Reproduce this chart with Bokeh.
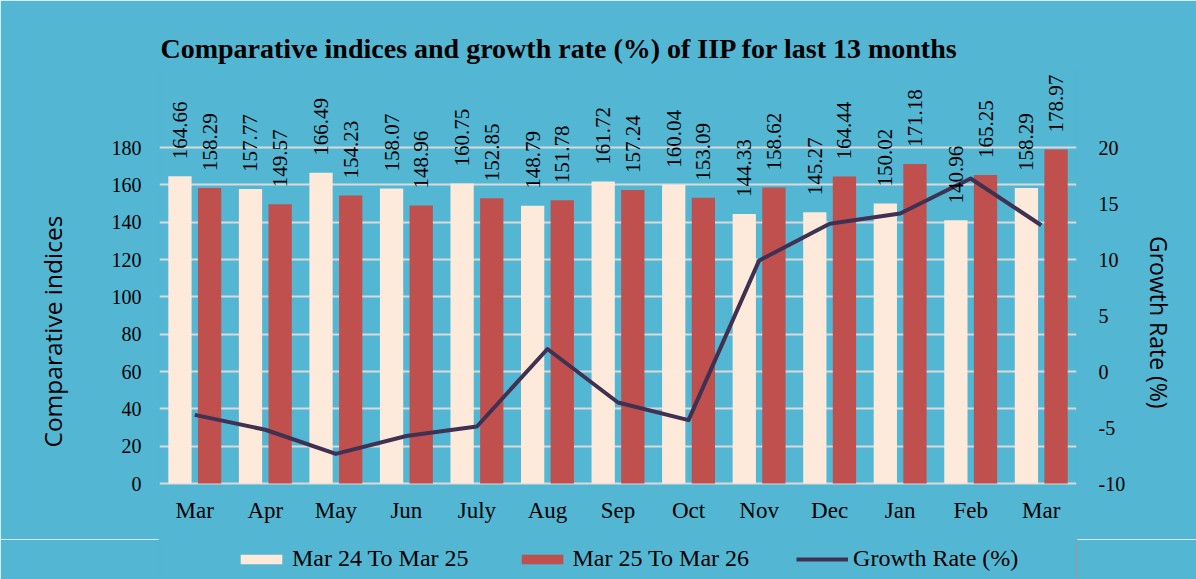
from math import pi
from bokeh.plotting import figure
from bokeh.layouts import column
from bokeh.models import (Range1d, LinearAxis, FixedTicker, Legend, LegendItem,
                          LabelSet, ColumnDataSource, PrintfTickFormatter)
from bokeh.embed import file_html
from bokeh.resources import INLINE
from bokeh.core.properties import value
from bokeh.transform import dodge

# ---------------- data ----------------
months = ["Mar", "Apr", "May", "Jun", "July", "Aug", "Sep", "Oct",
          "Nov", "Dec", "Jan", "Feb", "Mar"]
index_2425 = [164.66, 157.77, 166.49, 158.07, 160.75, 148.79, 161.72,
              160.04, 144.33, 145.27, 150.02, 140.96, 158.29]
index_2526 = [158.29, 149.57, 154.23, 148.96, 152.85, 151.78, 157.24,
              153.09, 158.62, 164.44, 171.18, 165.25, 178.97]
growth_rate = [-3.87, -5.20, -7.36, -5.76, -4.91, 2.01, -2.77,
               -4.34, 9.90, 13.20, 14.10, 17.23, 13.06]
left_ticks = [0, 20, 40, 60, 80, 100, 120, 140, 160, 180]
right_ticks = [-10, -5, 0, 5, 10, 15, 20]
series_names = ["Mar 24 To Mar 25", "Mar 25 To Mar 26", "Growth Rate (%)"]
title_text = "Comparative indices and growth rate (%) of IIP for last 13 months"
left_label = "Comparative indices"
right_label = "Growth Rate (%)"

# ---------------- styling ----------------
BG = "#53B6D2"
CREAM = "#FDEADA"
RED = "#C0504D"
LINE = "#403152"
GRID = "#D9D9D9"
SERIF = "Liberation Serif"
SANS = "Open Sans"
NBSP = "\u00a0"

W = 1196
H_MAIN, H_LEG = 539, 40
F_LEFT, F_RIGHT, F_TOP, F_BOTTOM = 159, 1076, 68, 486   # frame edges in px
Y180, Y0 = 147, 483                                   # px where 180 and 0 sit
px_per_unit = (Y0 - Y180) / 180.0
y_top = 180 + (Y180 - F_TOP) / px_per_unit
y_bot = -(F_BOTTOM - Y0) / px_per_unit
gr_per_unit = 30 / 180.0
gr_top = -10 + (y_top) * gr_per_unit
gr_bot = -10 + (y_bot) * gr_per_unit

pos = list(range(len(months)))
label_shift = 17 / px_per_unit   # value labels start 17px above the bar top
src = ColumnDataSource(dict(
    x=pos, a=index_2425, b=index_2526, g=growth_rate,
    a_lab=[f"{v:.2f}" for v in index_2425],
    b_lab=[f"{v:.2f}" for v in index_2526],
    a_y=[v + label_shift for v in index_2425],
    b_y=[v + label_shift for v in index_2526],
))

p = figure(width=W, height=H_MAIN, output_backend="svg", toolbar_location=None,
           x_range=Range1d(-0.5, len(months) - 0.5), y_range=Range1d(y_bot, y_top),
           min_border_left=F_LEFT, min_border_right=W - F_RIGHT,
           min_border_top=F_TOP, min_border_bottom=H_MAIN - F_BOTTOM)
p.extra_y_ranges = {"gr": Range1d(gr_bot, gr_top)}
p.background_fill_color = BG
p.border_fill_color = BG
p.outline_line_color = BG
p.outline_line_width = 2

bar_w = 0.33
off = 0.21
p.vbar(x=dodge("x", -off), top="a", width=bar_w, source=src,
       fill_color=CREAM, line_color=None)
p.vbar(x=dodge("x", off), top="b", width=bar_w, source=src,
       fill_color=RED, line_color=None)
p.line(x="x", y="g", source=src, y_range_name="gr",
       line_color=LINE, line_width=4, line_join="round")

for xf, yf, tf in [(dodge("x", -off), "a_y", "a_lab"), (dodge("x", off), "b_y", "b_lab")]:
    p.add_layout(LabelSet(x=xf, y=yf, text=tf, source=src, angle=pi / 2,
                          text_align="left", text_baseline="middle",
                          text_font=value(SERIF), text_font_size="21px",
                          text_color="black"))

# x axis
xa = p.xaxis[0]
xa.ticker = FixedTicker(ticks=pos)
xa.major_label_overrides = {i: m for i, m in enumerate(months)}
xa.axis_line_color = None
xa.major_tick_line_color = None
xa.minor_tick_line_color = None
xa.major_label_text_font = SERIF
xa.major_label_text_font_size = "23px"
xa.major_label_text_color = "black"
xa.major_label_standoff = 5

# left axis (label padded so it sits where the reference has it)
ya = p.yaxis[0]
ya.ticker = FixedTicker(ticks=left_ticks)
ya.axis_line_color = None
ya.major_tick_line_color = None
ya.minor_tick_line_color = None
ya.major_label_text_font = SERIF
ya.major_label_text_font_size = "20px"
ya.major_label_text_color = "black"
ya.major_label_standoff = 12
ya.axis_label = left_label + NBSP * 17
ya.axis_label_text_font = SANS
ya.axis_label_text_font_size = "24.5px"
ya.axis_label_text_font_style = "normal"
ya.axis_label_text_color = "black"
ya.axis_label_standoff = 40

# right axis
ra = LinearAxis(y_range_name="gr", ticker=FixedTicker(ticks=right_ticks),
                formatter=PrintfTickFormatter(format="%d"))
ra.axis_line_color = None
ra.major_tick_line_color = None
ra.minor_tick_line_color = None
ra.major_label_text_font = SERIF
ra.major_label_text_font_size = "20px"
ra.major_label_text_color = "black"
ra.major_label_standoff = 16
ra.axis_label = NBSP * 15 + right_label
ra.axis_label_text_font = SANS
ra.axis_label_text_font_size = "23px"
ra.axis_label_text_font_style = "normal"
ra.axis_label_text_color = "black"
ra.axis_label_standoff = 15
p.add_layout(ra, "right")

p.xgrid.grid_line_color = None
p.ygrid.ticker = FixedTicker(ticks=left_ticks)
p.ygrid.grid_line_color = GRID
p.ygrid.grid_line_width = 2

# title
p.title.text = title_text
p.title.align = "left"
p.title.offset = 1
p.title.text_font = SERIF
p.title.text_font_style = "bold"
p.title.text_font_size = "28px"
p.title.text_color = "black"

# ---------------- legend strip ----------------
p2 = figure(width=W, height=H_LEG, output_backend="svg", toolbar_location=None,
            x_axis_location=None, y_axis_location=None,
            x_range=Range1d(0, 1), y_range=Range1d(0, 1),
            min_border_left=0, min_border_right=0,
            min_border_top=0, min_border_bottom=0)
p2.background_fill_color = BG
p2.border_fill_color = BG
p2.outline_line_color = BG
p2.outline_line_width = 2
p2.grid.grid_line_color = None
# legend keys only: these sit outside the strip's visible range
keys = ColumnDataSource(dict(x=[5, 6], top=[5, 5], y=[5, 5]))
g1 = p2.vbar(x="x", top="top", width=0.1, source=keys, fill_color=CREAM, line_color=None)
g2 = p2.vbar(x="x", top="top", width=0.1, source=keys, fill_color=RED, line_color=None)
g3 = p2.line(x="x", y="y", source=keys, line_color=LINE, line_width=4)

legend = Legend(items=[LegendItem(label=series_names[0], renderers=[g1]),
                       LegendItem(label=series_names[1], renderers=[g2]),
                       LegendItem(label=series_names[2], renderers=[g3])],
                orientation="horizontal", location=(235 - F_LEFT, 7),
                background_fill_alpha=0, border_line_color=None,
                label_text_font=SERIF, label_text_font_size="24px",
                label_text_color="black", glyph_width=52, glyph_height=12,
                label_standoff=5, spacing=47, padding=0, margin=0)
p2.add_layout(legend)

layout = column(p, p2, spacing=0)
open("out.html", "w").write(file_html(layout, INLINE))
